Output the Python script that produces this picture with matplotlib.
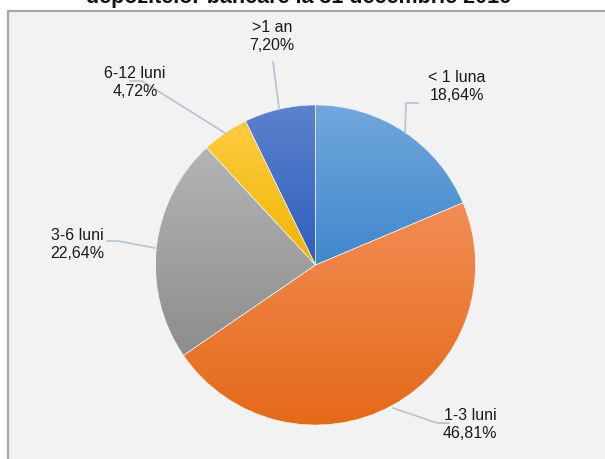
import numpy as np
import matplotlib.pyplot as plt
from matplotlib.patches import Rectangle
from matplotlib.colors import to_rgb

categories = ["< 1 luna", "1-3 luni", "3-6 luni", "6-12 luni", ">1 an"]
shares = [18.64, 46.81, 22.64, 4.72, 7.20]
share_labels = ["18,64%", "46,81%", "22,64%", "4,72%", "7,20%"]
title = "depozitelor bancare la 31 decembrie 2016"

# top/bottom colours of each slice gradient
top_colors = ["#70a7dd", "#f38d55", "#b4b4b4", "#ffca42", "#5c82cd"]
bottom_colors = ["#4187cb", "#e46a18", "#8d8d8d", "#efb600", "#2f5ebe"]

# label centres and leader lines (pixel coords, y from top)
label_pos = [(457, 86), (470, 424), (77, 245), (135, 82), (272, 37)]
leaders = [
    [(405, 133), (406, 103), (418, 103)],
    [(393, 408), (437, 423), (449, 423)],
    [(155, 248), (118, 241), (107, 241)],
    [(225, 133), (142, 81), (130, 81)],
    [(279, 108), (273, 62)],
]

W, H = 605, 459
fig = plt.figure(figsize=(W / 100, H / 100), dpi=100)
fig.patch.set_facecolor("white")
ax = fig.add_axes([0, 0, 1, 1])

ax.add_patch(Rectangle((8, -20), W + 20, H - 11 + 20, facecolor="#f2f2f2",
                       edgecolor="#a8a8a8", linewidth=1.6, zorder=0))

wedges, _ = ax.pie(shares, center=(315.5, H - 265), radius=160, startangle=90,
                   counterclock=False, frame=True,
                   wedgeprops=dict(facecolor="none", edgecolor="none"))
ax.set_xlim(0, W)
ax.set_ylim(0, H)
ax.set_aspect("equal")
ax.axis("off")

for w, c0, c1 in zip(wedges, top_colors, bottom_colors):
    bb = w.get_path().get_extents(w.get_patch_transform())
    t = np.linspace(0, 1, 200)[:, None, None]
    img = (1 - t) * np.array(to_rgb(c0)) + t * np.array(to_rgb(c1))
    im = ax.imshow(img, extent=(bb.x0, bb.x1, bb.y0, bb.y1), origin="upper",
                   aspect="auto", zorder=2, interpolation="bilinear")
    im.set_clip_path(w)
    w.set_edgecolor("#f4f4f4")
    w.set_linewidth(0.4)
    w.set_zorder(3)

font = ["Liberation Sans", "DejaVu Sans"]
for cat, lab, (x, y) in zip(categories, share_labels, label_pos):
    ax.text(x, H - y, cat + "\n" + lab, ha="center", va="center",
            fontsize=11.5, family=font, color="#1a1a1a", linespacing=1.25, zorder=5)

for pts in leaders:
    xs = [p[0] for p in pts]
    ys = [H - p[1] for p in pts]
    ax.plot(xs, ys, color="#b5c3d4", linewidth=1.2, zorder=4)

# title is cut off at the top edge, as in the source image
ax.text(298, H - 3.5, title, ha="center", va="baseline", fontsize=15.5,
        fontweight="bold", family=font, color="#111111")

fig.savefig("out.png", dpi=100)
